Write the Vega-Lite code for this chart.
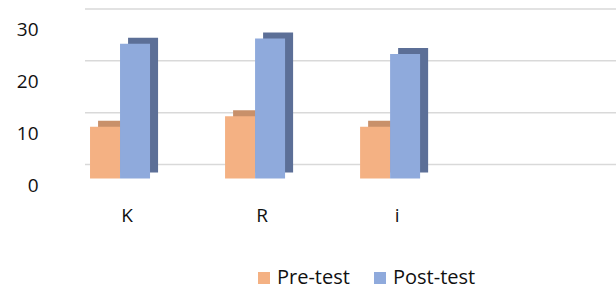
{
  "$schema": "https://vega.github.io/schema/vega-lite/v6.json",
  "width": 531,
  "height": 155.5,
  "autosize": {"type": "none"},
  "padding": {"left": 85, "top": 23, "right": 0, "bottom": 112.5},
  "config": {
    "view": {"stroke": null},
    "font": "Open Sans",
    "axis": {"domain": false, "ticks": false, "grid": false, "labelFont": "Open Sans", "labelFontSize": 19, "labelColor": "#111111"},
    "axisY": {"labelPadding": 47, "labelOffset": 6.5},
    "axisX": {"labelPadding": 28, "labelOffset": 7, "labelAngle": 0},
    "legend": {"labelFont": "Open Sans", "labelFontSize": 20, "labelColor": "#111111"}
  },
  "datasets": {
    "scores": [
      {"category": "K", "series": "Pre-test", "value": 10},
      {"category": "K", "series": "Post-test", "value": 26},
      {"category": "R", "series": "Pre-test", "value": 12},
      {"category": "R", "series": "Post-test", "value": 27},
      {"category": "i", "series": "Pre-test", "value": 10},
      {"category": "i", "series": "Post-test", "value": 24}
    ],
    "grid": [{"v": 0}, {"v": 10}, {"v": 20}, {"v": 30}]
  },
  "resolve": {"scale": {"x": "independent", "color": "independent"}, "axis": {"x": "independent"}, "legend": {"color": "independent"}},
  "layer": [
    {
      "data": {"name": "grid"},
      "mark": {"type": "rule", "color": "#d9d9d9", "strokeWidth": 1.5, "yOffset": -14},
      "encoding": {
        "y": {"field": "v", "type": "quantitative", "title": null, "scale": {"domain": [0, 30], "nice": false}, "axis": {"values": [0, 10, 20, 30]}}
      }
    },
    {
      "data": {"name": "scores"},
      "mark": {"type": "bar", "yOffset": -6, "y2Offset": -6},
      "encoding": {
        "x": {"field": "category", "type": "nominal", "sort": ["K", "R", "i"], "title": null, "axis": null,
              "scale": {"paddingInner": 0.5556, "paddingOuter": 0.744, "align": 0.065}},
        "xOffset": {"field": "series", "type": "nominal", "sort": ["Pre-test", "Post-test"], "scale": {"paddingInner": 0, "paddingOuter": 0}},
        "y": {"field": "value", "type": "quantitative", "title": null},
        "color": {"field": "series", "type": "nominal", "sort": ["Pre-test", "Post-test"],
                  "scale": {"domain": ["Pre-test", "Post-test"], "range": ["#c8906a", "#5c6f97"]}, "legend": null}
      }
    },
    {
      "data": {"name": "scores"},
      "mark": {"type": "bar"},
      "encoding": {
        "x": {"field": "category", "type": "nominal", "sort": ["K", "R", "i"], "title": null,
              "scale": {"paddingInner": 0.5556, "paddingOuter": 0.744, "align": 0.025}},
        "xOffset": {"field": "series", "type": "nominal", "sort": ["Pre-test", "Post-test"], "scale": {"paddingInner": 0, "paddingOuter": 0}},
        "y": {"field": "value", "type": "quantitative", "title": null},
        "color": {"field": "series", "type": "nominal", "sort": ["Pre-test", "Post-test"],
                  "scale": {"domain": ["Pre-test", "Post-test"], "range": ["#f4b183", "#8faadc"]},
                  "legend": {"title": null, "orient": "none", "direction": "horizontal", "legendX": 169, "legendY": 245,
                             "symbolType": "square", "symbolSize": 144, "symbolStrokeWidth": 0, "labelOffset": 3, "columnPadding": 20}}
      }
    }
  ]
}
